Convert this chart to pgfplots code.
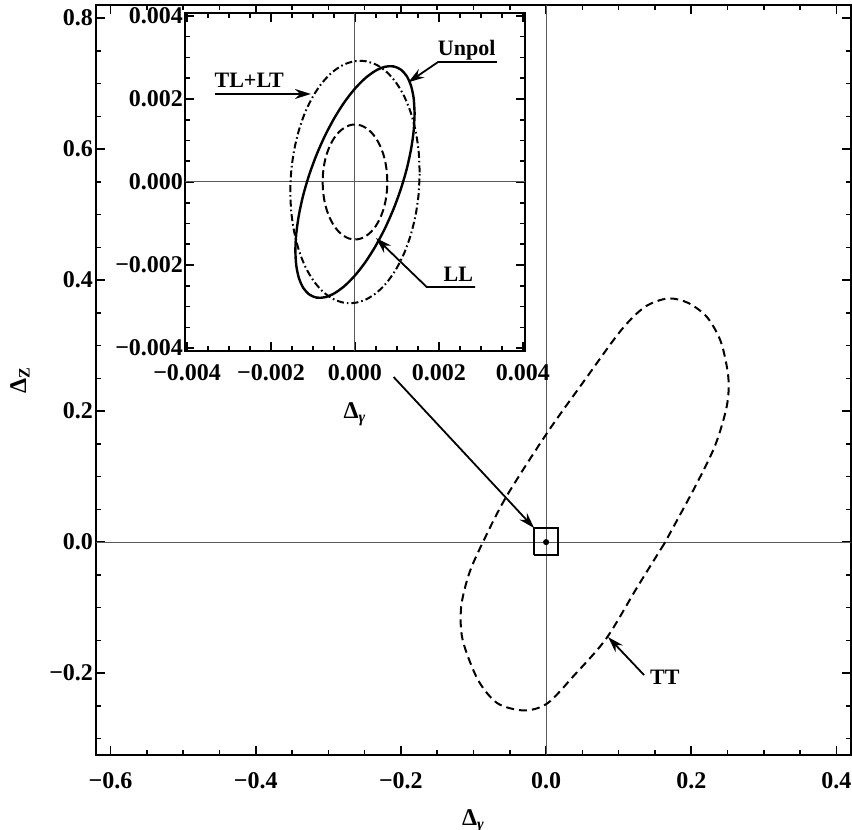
\documentclass[border=0pt]{standalone}
\usepackage{fontspec}
\setmainfont{Liberation Serif}
\usepackage{pgfplots}
\pgfplotsset{compat=1.18}
\usetikzlibrary{arrows.meta}

\pgfplotsset{
  framed/.style={
    scale only axis,
    tick align=inside,
    major tick length=4.5pt, minor tick length=2.5pt,
    every tick/.append style={black, line width=0.8pt},
    axis line style={line width=1.2pt},
    tick label style={font=\fontsize{12}{14}\selectfont\bfseries},
    scaled ticks=false,
  },
}
\tikzset{
  zeroline/.style={black!65, line width=0.5pt},
  note/.style={line width=0.9pt, -{Stealth[length=8pt,width=5pt]}},
}
\newcommand{\lbl}{\fontsize{11}{13}\selectfont\bfseries}
\newcommand{\axl}{\fontsize{12}{14}\selectfont\bfseries}

\begin{document}
\begin{tikzpicture}
\useasboundingbox (-48pt,-37.5pt) rectangle (378pt,377.5pt);

% main panel
\begin{axis}[
  framed, name=main,
  at={(0pt,0pt)}, anchor=south west,
  width=377.5pt, height=375pt,
  xmin=-0.62, xmax=0.42, ymin=-0.325, ymax=0.82,
  xtick={-0.6,-0.4,-0.2,0,0.2,0.4},
  xticklabels={−0.6,−0.4,−0.2,0.0,0.2,0.4},
  ytick={-0.2,0,0.2,0.4,0.6,0.8},
  yticklabels={−0.2,0.0,0.2,0.4,0.6,0.8},
  minor xtick={-0.55,-0.5,-0.45,-0.35,-0.3,-0.25,-0.15,-0.1,-0.05,0.05,0.1,0.15,0.25,0.3,0.35},
  minor ytick={-0.3,-0.25,-0.15,-0.1,-0.05,0.05,0.1,0.15,0.25,0.3,0.35,0.45,0.5,0.55,0.65,0.7,0.75},
  xticklabel style={yshift=-5pt},
  yticklabel style={xshift=2pt},
]
\draw[zeroline] (axis cs:0,-0.325) -- (axis cs:0,0.82);
\draw[zeroline] (axis cs:-0.62,0) -- (axis cs:0.42,0);

% TT
\addplot[black, line width=1pt, dash pattern=on 4pt off 2.5pt, smooth] coordinates {
  (0.163,-0.002) (0.126,-0.068) (0.083,-0.147)
  (0.039,-0.203) (0.002,-0.246) (-0.030,-0.257) (-0.067,-0.246) (-0.094,-0.210)
  (-0.115,-0.149) (-0.117,-0.099) (-0.106,-0.048) (-0.087,0.000) (-0.055,0.069)
  (0.001,0.166) (0.053,0.247) (0.103,0.323) (0.136,0.359) (0.168,0.372)
  (0.196,0.365) (0.222,0.343) (0.241,0.305) (0.251,0.252) (0.249,0.208)
  (0.233,0.148) (0.205,0.084) (0.163,-0.002)
};

% zoom box and centre point
\addplot[black, line width=1pt] coordinates {
  (-0.016,-0.020) (0.017,-0.020) (0.017,0.021) (-0.016,0.021) (-0.016,-0.020)
};
\addplot[only marks, mark=*, mark size=1.3pt, black] coordinates {(0,0)};

\draw[note] (axis cs:-0.210,0.252) -- (axis cs:-0.0165,0.0215);
\draw[note] (axis cs:0.135,-0.203) -- (axis cs:0.0855,-0.145);
\node[anchor=west, inner sep=1pt, font=\lbl] at (axis cs:0.140,-0.206) {TT};
\end{axis}
\node[font=\axl] at ([yshift=-33pt]main.south) {Δ\textsubscript{\textit{γ}}};
\node[font=\axl, rotate=90] at ([xshift=-38pt]main.west) {Δ\textsubscript{Z}};

% inset
\begin{axis}[
  framed, name=inset,
  at={(44.5pt,202pt)}, anchor=south west,
  width=170pt, height=169pt,
  axis background/.style={fill=white},
  xmin=-0.00405, xmax=0.00405, ymin=-0.00407, ymax=0.00407,
  xtick={-0.004,-0.002,0,0.002,0.004},
  xticklabels={−0.004,−0.002,0.000,0.002,0.004},
  ytick={-0.004,-0.002,0,0.002,0.004},
  yticklabels={−0.004,−0.002,0.000,0.002,0.004},
  minor tick num=3,
  xticklabel style={yshift=-3pt},
  yticklabel style={xshift=2.5pt},
]
\draw[zeroline] (axis cs:0,-0.00407) -- (axis cs:0,0.00407);
\draw[zeroline] (axis cs:-0.00405,0) -- (axis cs:0.00405,0);

% Unpol
\addplot[black, line width=1.2pt, smooth] coordinates {
  (1.420e-3,1.650e-3) (1.398e-3,2.016e-3) (1.334e-3,2.320e-3) (1.230e-3,2.554e-3)
  (1.088e-3,2.710e-3) (0.913e-3,2.785e-3) (0.710e-3,2.774e-3) (0.486e-3,2.678e-3)
  (0.247e-3,2.502e-3) (0,2.250e-3) (-0.247e-3,1.930e-3) (-0.486e-3,1.550e-3)
  (-0.710e-3,1.124e-3) (-0.913e-3,0.663e-3) (-1.088e-3,0.182e-3) (-1.230e-3,-0.304e-3)
  (-1.334e-3,-0.781e-3) (-1.398e-3,-1.234e-3) (-1.420e-3,-1.650e-3) (-1.398e-3,-2.016e-3)
  (-1.334e-3,-2.320e-3) (-1.230e-3,-2.554e-3) (-1.088e-3,-2.710e-3) (-0.913e-3,-2.785e-3)
  (-0.710e-3,-2.774e-3) (-0.486e-3,-2.678e-3) (-0.247e-3,-2.502e-3) (0,-2.250e-3)
  (0.247e-3,-1.930e-3) (0.486e-3,-1.550e-3) (0.710e-3,-1.124e-3) (0.913e-3,-0.663e-3)
  (1.088e-3,-0.182e-3) (1.230e-3,0.304e-3) (1.334e-3,0.781e-3) (1.398e-3,1.234e-3)
  (1.420e-3,1.650e-3)
};

% TL+LT
\addplot[black, line width=1pt, dash pattern=on 3.5pt off 1.5pt on 0.8pt off 1.5pt, smooth] coordinates {
  (1.540e-3,0.230e-3) (1.517e-3,0.731e-3) (1.447e-3,1.211e-3) (1.334e-3,1.654e-3)
  (1.180e-3,2.047e-3) (0.990e-3,2.377e-3) (0.770e-3,2.635e-3) (0.527e-3,2.814e-3)
  (0.267e-3,2.906e-3) (0,2.910e-3) (-0.267e-3,2.826e-3) (-0.527e-3,2.656e-3)
  (-0.770e-3,2.405e-3) (-0.990e-3,2.081e-3) (-1.180e-3,1.695e-3) (-1.334e-3,1.256e-3)
  (-1.447e-3,0.779e-3) (-1.517e-3,0.279e-3) (-1.540e-3,-0.230e-3) (-1.517e-3,-0.731e-3)
  (-1.447e-3,-1.211e-3) (-1.334e-3,-1.654e-3) (-1.180e-3,-2.047e-3) (-0.990e-3,-2.377e-3)
  (-0.770e-3,-2.635e-3) (-0.527e-3,-2.814e-3) (-0.267e-3,-2.906e-3) (0,-2.910e-3)
  (0.267e-3,-2.826e-3) (0.527e-3,-2.656e-3) (0.770e-3,-2.405e-3) (0.990e-3,-2.081e-3)
  (1.180e-3,-1.695e-3) (1.334e-3,-1.256e-3) (1.447e-3,-0.779e-3) (1.517e-3,-0.279e-3)
  (1.540e-3,0.230e-3)
};

% LL
\addplot[black, line width=1pt, dash pattern=on 4pt off 2pt, smooth] coordinates {
  (0.770e-3,0) (0.758e-3,0.240e-3) (0.724e-3,0.474e-3) (0.667e-3,0.693e-3)
  (0.590e-3,0.890e-3) (0.495e-3,1.061e-3) (0.385e-3,1.199e-3) (0.263e-3,1.301e-3)
  (0.134e-3,1.364e-3) (0,1.385e-3) (-0.134e-3,1.364e-3) (-0.263e-3,1.301e-3)
  (-0.385e-3,1.199e-3) (-0.495e-3,1.061e-3) (-0.590e-3,0.890e-3) (-0.667e-3,0.693e-3)
  (-0.724e-3,0.474e-3) (-0.758e-3,0.240e-3) (-0.770e-3,0) (-0.758e-3,-0.240e-3)
  (-0.724e-3,-0.474e-3) (-0.667e-3,-0.693e-3) (-0.590e-3,-0.890e-3) (-0.495e-3,-1.061e-3)
  (-0.385e-3,-1.199e-3) (-0.263e-3,-1.301e-3) (-0.134e-3,-1.364e-3) (0,-1.385e-3)
  (0.134e-3,-1.364e-3) (0.263e-3,-1.301e-3) (0.385e-3,-1.199e-3) (0.495e-3,-1.061e-3)
  (0.590e-3,-0.890e-3) (0.667e-3,-0.693e-3) (0.724e-3,-0.474e-3) (0.758e-3,-0.240e-3)
  (0.770e-3,0)
};

% labels
\draw[note] (axis cs:-0.00333,0.00212) -- (axis cs:-0.00105,0.00212);
\node[anchor=base, font=\lbl] at (axis cs:-0.00252,0.00212) [yshift=3pt] {TL+LT};
\draw[note] (axis cs:0.00338,0.00289) -- (axis cs:0.00198,0.00289) -- (axis cs:0.00127,0.00240);
\node[anchor=base, font=\lbl] at (axis cs:0.00266,0.00289) [yshift=3pt] {Unpol};
\draw[note] (axis cs:0.00286,-0.00253) -- (axis cs:0.00171,-0.00253) -- (axis cs:0.00050,-0.00135);
\node[anchor=base, font=\lbl] at (axis cs:0.00246,-0.00253) [yshift=3pt] {LL};
\end{axis}
\node[font=\axl] at ([yshift=-31.5pt]inset.south) {Δ\textsubscript{\textit{γ}}};
\end{tikzpicture}
\end{document}
